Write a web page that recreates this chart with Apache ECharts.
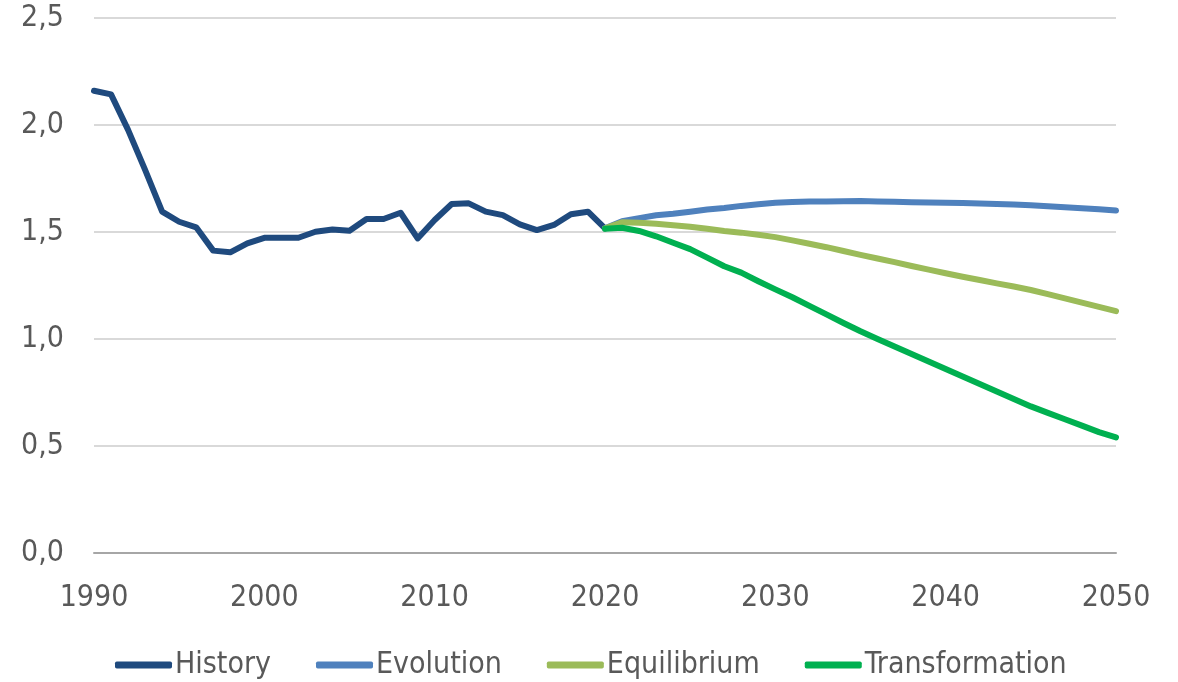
<!DOCTYPE html>
<html>
<head>
<meta charset="utf-8">
<script src="https://cdn.jsdelivr.net/npm/echarts@6/dist/echarts.min.js"></script>
<style>
html,body{margin:0;padding:0;background:#fff;}
#chart{width:1178px;height:682px;}
</style>
</head>
<body>
<div id="chart"></div>
<script>
const historyYears = [1990,1991,1992,1993,1994,1995,1996,1997,1998,1999,2000,2001,2002,2003,2004,2005,2006,2007,2008,2009,2010,2011,2012,2013,2014,2015,2016,2017,2018,2019,2020];
const historyValues = [2.160,2.143,1.977,1.790,1.595,1.548,1.522,1.413,1.405,1.447,1.473,1.473,1.473,1.501,1.512,1.506,1.561,1.561,1.590,1.470,1.556,1.631,1.634,1.595,1.579,1.536,1.509,1.533,1.583,1.595,1.517];

const projYears = [2020,2021,2022,2023,2024,2025,2026,2027,2028,2029,2030,2031,2032,2033,2034,2035,2036,2037,2038,2039,2040,2041,2042,2043,2044,2045,2046,2047,2048,2049,2050];
const evolutionValues = [1.517,1.550,1.565,1.578,1.585,1.595,1.605,1.612,1.622,1.630,1.637,1.640,1.642,1.643,1.644,1.645,1.643,1.641,1.639,1.638,1.637,1.635,1.633,1.631,1.628,1.625,1.620,1.616,1.611,1.606,1.600];
const equilibriumValues = [1.517,1.545,1.543,1.538,1.532,1.525,1.515,1.505,1.497,1.487,1.476,1.461,1.445,1.429,1.411,1.393,1.376,1.359,1.341,1.324,1.307,1.291,1.276,1.260,1.245,1.229,1.210,1.190,1.170,1.150,1.130];
const transformationValues = [1.515,1.520,1.505,1.480,1.450,1.420,1.380,1.340,1.310,1.270,1.232,1.195,1.155,1.115,1.075,1.036,1.000,0.965,0.930,0.895,0.860,0.825,0.790,0.755,0.720,0.685,0.655,0.625,0.595,0.565,0.540];

const seriesNames = ['History','Evolution','Equilibrium','Transformation'];
const seriesColors = ['#1f4a7e','#4f81bd','#9bbb59','#00b050'];

function pairs(xs, ys){ return xs.map((x,i)=>[x, ys[i]]); }

const dataSets = [
  pairs(historyYears, historyValues),
  pairs(projYears, evolutionValues),
  pairs(projYears, equilibriumValues),
  pairs(projYears, transformationValues)
];

const font = '"DejaVu Sans Condensed", "Noto Sans", sans-serif';
const chart = echarts.init(document.getElementById('chart'));
chart.setOption({
  backgroundColor: '#fff',
  animation: false,
  grid: {left: 94, right: 62, top: 18, bottom: 129, containLabel: false},
  xAxis: {
    type: 'value', min: 1990, max: 2050, interval: 10,
    axisLine: {show: true, lineStyle: {color: '#a6a6a6', width: 2}},
    axisTick: {show: false},
    splitLine: {show: false},
    axisLabel: {color: '#595959', fontSize: 30, fontFamily: font, margin: 30, formatter: v => String(v)}
  },
  yAxis: {
    type: 'value', min: 0, max: 2.5, interval: 0.5,
    axisLine: {show: false},
    axisTick: {show: false},
    splitLine: {show: true, lineStyle: {color: '#d9d9d9', width: 2}},
    axisLabel: {color: '#595959', fontSize: 30, fontFamily: font, margin: 30,
      formatter: v => v.toFixed(1).replace('.', ',')}
  },
  legend: {
    data: seriesNames,
    left: 110, top: 645,
    icon: 'roundRect', itemWidth: 57, itemHeight: 7, itemGap: 45,
    textStyle: {color: '#595959', fontSize: 30, fontFamily: font, padding: [0,0,0,-2]}
  },
  series: seriesNames.map((name, i) => ({
    name: name, type: 'line', data: dataSets[i],
    showSymbol: false, symbol: 'none',
    color: seriesColors[i],
    lineStyle: {color: seriesColors[i], width: 6, cap: 'round', join: 'round'},
    z: 2 + i
  }))
});
</script>
</body>
</html>
